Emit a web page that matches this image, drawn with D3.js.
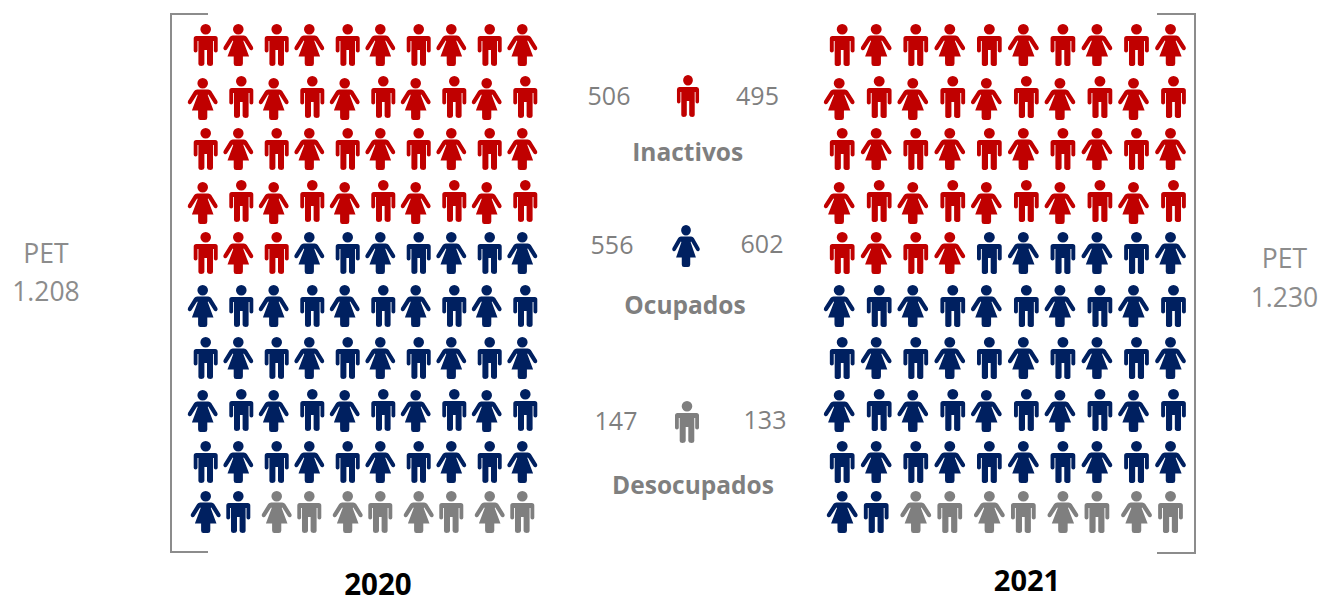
<!DOCTYPE html>
<html><head><meta charset="utf-8">
<script src="https://cdn.jsdelivr.net/npm/d3@7/dist/d3.min.js"></script>
<style>html,body{margin:0;background:#fff}svg{display:block}text{font-family:"Open Sans","Noto Sans",sans-serif}</style>
</head><body><svg id="c" width="1319" height="599"></svg>
<script>
const categories = ["Inactivos","Ocupados","Desocupados"];
const years = ["2020","2021"];
const pet = ["1.208","1.230"];
const values2020 = [506,556,147];
const values2021 = [495,602,133];
const icons2020 = [43,49,8];
const icons2021 = [44,48,8];
const colors = {Inactivos:"#c00000",Ocupados:"#002060",Desocupados:"#7f7f7f"};
const gray="#8c8c8c", labelGray="#7f7f7f";

const svg=d3.select("#c");
const head=p=>{p.moveTo(5.3,-16.8);p.arc(0,-16.8,5.3,0,2*Math.PI);p.closePath();};
const manPath=(()=>{const p=d3.path();
 p.moveTo(-9.5,-10);p.lineTo(9.5,-10);p.quadraticCurveTo(12,-10,12,-7.5);p.lineTo(12,4.8);
 p.quadraticCurveTo(12,6.6,10.1,6.6);p.quadraticCurveTo(8.2,6.6,8.2,4.8);p.lineTo(8.2,-5);p.lineTo(7.3,-5);p.lineTo(7.3,18);
 p.quadraticCurveTo(7.3,20,4.6,20);p.quadraticCurveTo(1.6,20,1.3,18);p.lineTo(1.3,4);p.lineTo(-1.3,4);p.lineTo(-1.3,18);
 p.quadraticCurveTo(-1.6,20,-4.6,20);p.quadraticCurveTo(-7.3,20,-7.3,18);p.lineTo(-7.3,-5);p.lineTo(-8.2,-5);p.lineTo(-8.2,4.8);
 p.quadraticCurveTo(-8.2,6.6,-10.1,6.6);p.quadraticCurveTo(-12,6.6,-12,4.8);p.lineTo(-12,-7.5);p.quadraticCurveTo(-12,-10,-9.5,-10);p.closePath();
 head(p);return p.toString();})();
const womanPath=(()=>{const p=d3.path();
 p.moveTo(-5.5,-10.5);p.lineTo(5.5,-10.5);p.quadraticCurveTo(7.5,-10.5,8.5,-9);p.lineTo(14.7,1);
 p.quadraticCurveTo(15.5,3,14,3.9);p.quadraticCurveTo(12.4,4.8,11.2,3.2);p.lineTo(5.6,-5.5);p.lineTo(5,-5);p.lineTo(10.8,10.6);p.lineTo(4.6,10.6);p.lineTo(4.6,17.5);
 p.quadraticCurveTo(4.6,20,2.2,20);p.lineTo(-2.2,20);p.quadraticCurveTo(-4.6,20,-4.6,17.5);p.lineTo(-4.6,10.6);p.lineTo(-10.8,10.6);p.lineTo(-5,-5);p.lineTo(-5.6,-5.5);p.lineTo(-11.2,3.2);
 p.quadraticCurveTo(-12.4,4.8,-14,3.9);p.quadraticCurveTo(-15.5,3,-14.7,1);p.lineTo(-8.5,-9);p.quadraticCurveTo(-7.5,-10.5,-5.5,-10.5);p.closePath();
 head(p);return p.toString();})();

const pairIdx=d3.range(5);
function panel(counts,cfg){
 const seq=categories.flatMap((c,i)=>d3.range(counts[i]).map(()=>c));
 const pair=d3.scalePoint().domain(pairIdx).range(cfg.pairRange);
 const row=d3.scaleLinear().domain([0,9]).range([46,514]);
 const cells=seq.map((c,i)=>{const r=Math.floor(i/10),k=i%10,odd=r%2===1,isMan=odd?k%2===1:k%2===0;
  const base=pair(Math.floor(k/2));
  const shift=(k%2===0?-cfg.gap/2:cfg.gap/2)+(odd&&r<9?(k%2===0?-3:3):0);
  const dy=(r===1||r===3)&&!isMan?2:(r===7&&!isMan?1:0);
  return {c,isMan,x:base+shift,y:row(r)+dy+(r>=5?1:0)-(r===9?2:0)};});
 svg.append("g").selectAll("path").data(cells).join("path")
  .attr("d",d=>d.isMan?manPath:womanPath).attr("fill",d=>colors[d.c])
  .attr("transform",d=>`translate(${d.x},${d.y}) scale(${cfg.sx},1)`);
}
panel(icons2020,{pairRange:[222,506],gap:32.6,sx:1});
panel(icons2021,{pairRange:[859.2,1153.5],gap:34,sx:1.03});

const line=d3.line();
svg.append("path").attr("d",line([[208,14],[171,14],[171,552],[208,552]])).attr("fill","none").attr("stroke",gray).attr("stroke-width",2);
svg.append("path").attr("d",line([[1157,14],[1195,14],[1195,553],[1157,553]])).attr("fill","none").attr("stroke",gray).attr("stroke-width",2);

function t(s,x,y,size,fill,w){svg.append("text").text(s).attr("x",x).attr("y",y).attr("text-anchor","middle").attr("font-size",size).attr("fill",fill).attr("font-weight",w||400);}
t("PET",46,263,26.5,gray);t(pet[0],46,301,26.5,gray);
t("PET",1284.5,268,26.5,gray);t(pet[1],1284.5,307,26.5,gray);
t(years[0],378,595,29.5,"#000",700);t(years[1],1027,591,29,"#000",700);

const lx=[609,612,616], rx=[757.5,762,765], ly=[105,254,430], ry=[105,253,429], labelY=[161,314,494];
categories.forEach((c,i)=>{
 t(values2020[i],lx[i],ly[i],25,labelGray);
 t(values2021[i],rx[i],ry[i],25,labelGray);
 t(c,[687.7,685,693][i],labelY[i],24.5,labelGray,700);
});
const lg=[[688,97,"M",.92],[686,247,"W",.92],[687,423,"M",1]];
lg.forEach((l,i)=>svg.append("path").attr("d",l[2]==="M"?manPath:womanPath).attr("fill",colors[categories[i]]).attr("transform",`translate(${l[0]},${l[1]}) scale(${l[3]},1)`));
</script></body></html>
